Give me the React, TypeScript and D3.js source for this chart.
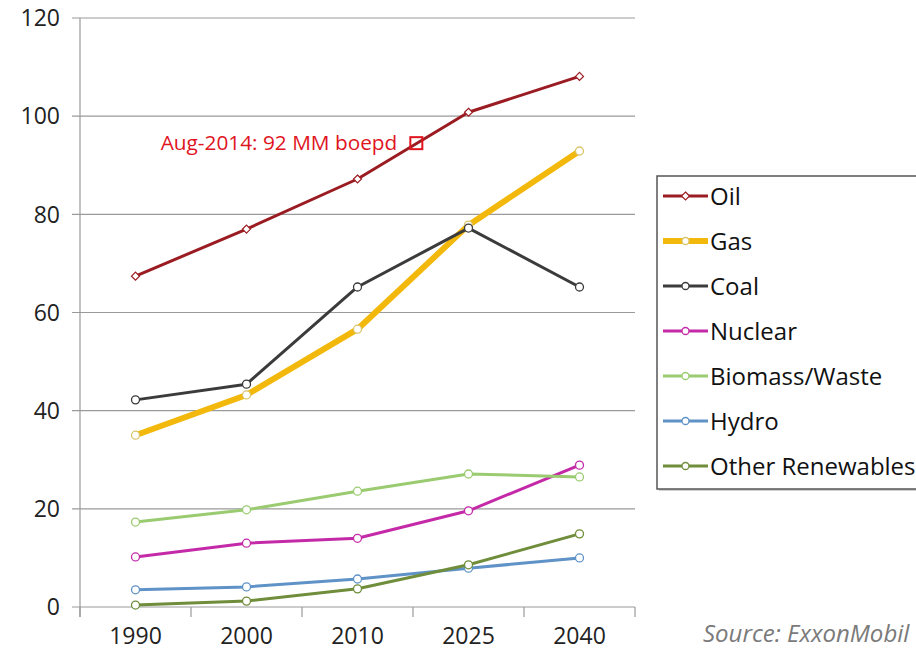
import React from "react";
import * as d3 from "d3";

const categories = ["1990", "2000", "2010", "2025", "2040"];
const seriesNames = ["Oil", "Gas", "Coal", "Nuclear", "Biomass/Waste", "Hydro", "Other Renewables"];
const oil = [67.4, 77, 87.2, 100.8, 108.1];
const gas = [35, 43.2, 56.6, 77.8, 92.9];
const coal = [42.2, 45.4, 65.2, 77.2, 65.2];
const nuclear = [10.2, 13, 14, 19.6, 28.9];
const biomass = [17.3, 19.8, 23.6, 27.1, 26.5];
const hydro = [3.5, 4.1, 5.7, 7.9, 10];
const otherRen = [0.4, 1.2, 3.7, 8.6, 14.9];
const yTicks = [0, 20, 40, 60, 80, 100, 120];
const annotationText = "Aug-2014: 92 MM boepd";
const annotationPos = 2.53; // category index position
const annotationValue = 94.5;
const sourceText = "Source: ExxonMobil";

const seriesValues = [oil, gas, coal, nuclear, biomass, hydro, otherRen];
const colors = ["#9a1c22", "#f2b90c", "#3b3b3b", "#c42aa8", "#9acb70", "#5f92c6", "#6f8d3a"];
const widths = [3, 6, 3, 3, 3, 3, 3];

const W = 916, H = 654;
const left = 80, right = 635, top = 18, bottom = 607;

export default function App() {
  const x = d3.scaleBand<string>().domain(categories).range([left, right]).padding(0);
  const y = d3.scaleLinear().domain([0, 120]).range([bottom, top]);
  const cx = (i: number) => (x(categories[i]) as number) + x.bandwidth() / 2;
  const line = d3.line<number>().x((_, i) => cx(i)).y((v) => y(v));
  const tickXs = [...categories.map((c) => x(c) as number), right];

  const annX = left + x.bandwidth() * (annotationPos + 0.5);
  const annY = y(annotationValue);

  const legX = 657, legY = 176, legW = 280, legH = 313;
  const rowY = (i: number) => 196 + i * 45;

  const marker = (i: number, px: number, py: number, key: string, r = 4) => {
    if (i === 0) {
      const s = 4;
      return (
        <path key={key} d={`M${px},${py - s}L${px + s},${py}L${px},${py + s}L${px - s},${py}Z`}
          fill="#fff" stroke={colors[i]} strokeWidth={1.2} />
      );
    }
    return <circle key={key} cx={px} cy={py} r={r} fill="#fff" stroke={i === 1 ? "#d9c56a" : colors[i]} strokeWidth={1.3} />;
  };

  return (
    <svg width={W} height={H} style={{ position: "absolute", left: 0, top: 0, background: "#fff" }}
      fontFamily="'Open Sans', sans-serif">
      {/* gridlines */}
      {yTicks.map((t) => (
        <line key={"g" + t} x1={72} x2={right} y1={y(t)} y2={y(t)} stroke="#9a9a9a" strokeWidth={1.2} />
      ))}
      {/* y axis */}
      <line x1={left} x2={left} y1={top} y2={bottom + 10} stroke="#9a9a9a" strokeWidth={1.2} />
      {tickXs.map((tx, i) => (
        <line key={"t" + i} x1={tx} x2={tx} y1={bottom} y2={bottom + 10} stroke="#9a9a9a" strokeWidth={1.2} />
      ))}
      {yTicks.map((t) => (
        <text key={"yl" + t} x={60} y={y(t)} dy="0.36em" textAnchor="end" fontSize={23} fill="#222">{t}</text>
      ))}
      {categories.map((c, i) => (
        <text key={"xl" + c} x={cx(i)} y={644} textAnchor="middle" fontSize={23} fill="#222">{c}</text>
      ))}
      {/* series */}
      {seriesValues.map((vals, si) => (
        <g key={"s" + si}>
          <path d={line(vals) as string} fill="none" stroke={colors[si]} strokeWidth={widths[si]}
            strokeLinejoin="round" strokeLinecap="round" />
          {vals.map((v, i) => marker(si, cx(i), y(v), `m${si}-${i}`))}
        </g>
      ))}
      {/* annotation */}
      <rect x={annX - 6} y={annY - 6} width={12} height={12} fill="none" stroke="#e0141e" strokeWidth={2} />
      <text x={annX - 19} y={annY} dy="0.35em" textAnchor="end" fontSize={20.8} fill="#e0141e">{annotationText}</text>
      {/* legend */}
      <rect x={legX + 2} y={legY + 2} width={legW} height={legH} fill="#d0d0d0" />
      <rect x={legX} y={legY} width={legW} height={legH} fill="#fff" stroke="#555" strokeWidth={1.5} />
      {seriesNames.map((n, i) => (
        <g key={"lg" + i}>
          <line x1={663} x2={708} y1={rowY(i)} y2={rowY(i)} stroke={colors[i]} strokeWidth={widths[i]} />
          {marker(i, 685.5, rowY(i), "lm" + i, 3.5)}
          <text x={710} y={rowY(i)} dy="0.36em" fontSize={24} fill="#111">{n}</text>
        </g>
      ))}
      <text x={703} y={642} fontSize={24} fontStyle="italic" fill="#7a7a7a">{sourceText}</text>
    </svg>
  );
}
